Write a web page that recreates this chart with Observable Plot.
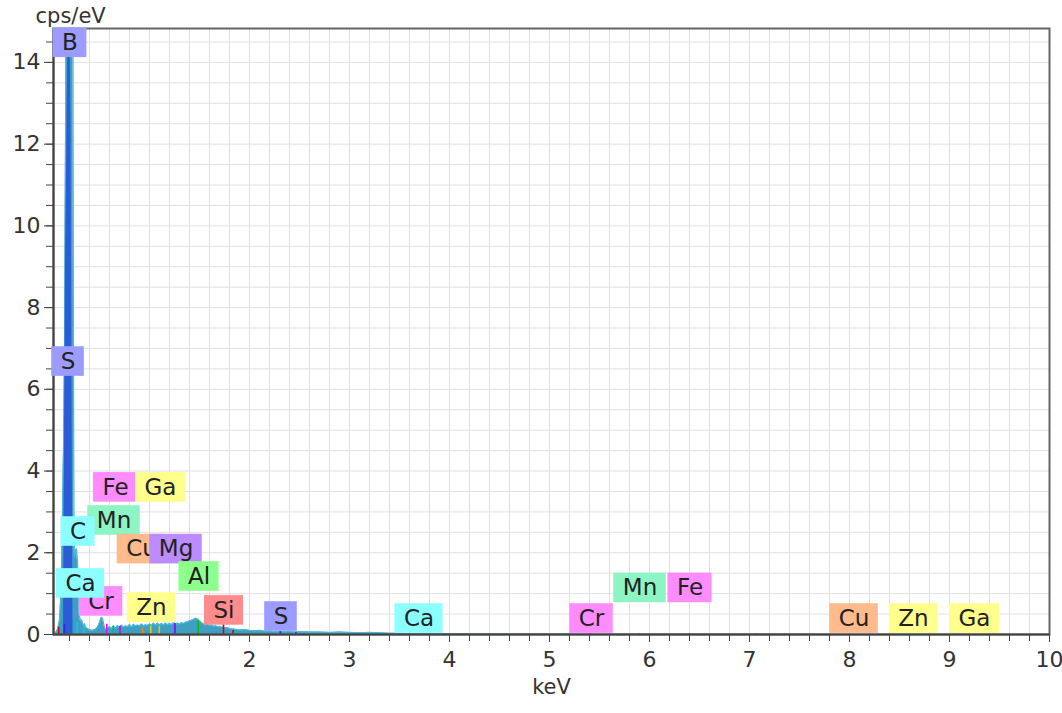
<!DOCTYPE html>
<html><head><meta charset="utf-8">
<script src="https://cdn.jsdelivr.net/npm/d3@7"></script>
<script src="https://cdn.jsdelivr.net/npm/@observablehq/plot@0.6"></script>
<style>body{margin:0;background:#fff;}</style>
</head><body><div id="chart"></div>
<script>
// ---- data ----
const energy = [0.04,0.06,0.08,0.10,0.11,0.12,0.13,0.14,0.15,0.165,0.235,0.24,0.245,0.25,0.26,0.27,0.28,0.29,0.30,0.31,0.32,0.33,0.34,0.35,0.36,0.38,0.40,0.42,0.44,0.46,0.48,0.50,0.51,0.52,0.53,0.54,0.55,0.56,0.58,0.60,0.62,0.64,0.66,0.68,0.70,0.72,0.74,0.76,0.78,0.80,0.82,0.84,0.86,0.88,0.90,0.92,0.94,0.96,0.98,1.00,1.02,1.04,1.06,1.08,1.10,1.12,1.14,1.16,1.18,1.20,1.22,1.24,1.26,1.28,1.30,1.32,1.34,1.36,1.38,1.40,1.42,1.44,1.46,1.48,1.50,1.52,1.54,1.56,1.58,1.60,1.62,1.64,1.66,1.68,1.70,1.72,1.74,1.76,1.78,1.80,1.85,1.90,1.95,2.00,2.05,2.10,2.15,2.20,2.25,2.30,2.35,2.40,2.45,2.50,2.60,2.70,2.80,2.90,3.00,3.10,3.20,3.30,3.40,3.50,3.60,3.70,3.80,4.00,4.20,4.50,5.00,5.50,6.00,6.50,7.00,8.00,9.00,10.00];
const cps = [0,0.04,0.12,0.35,0.8,1.6,3.0,4.5,7.0,14.7,14.7,6.5,2.4,1.9,2.05,2.1,1.8,0.9,0.45,0.33,0.36,0.28,0.22,0.26,0.18,0.14,0.12,0.1,0.11,0.13,0.18,0.28,0.36,0.42,0.40,0.28,0.18,0.13,0.15,0.19,0.14,0.21,0.15,0.22,0.17,0.23,0.18,0.21,0.19,0.24,0.18,0.25,0.2,0.23,0.21,0.26,0.2,0.24,0.22,0.26,0.22,0.28,0.22,0.28,0.23,0.27,0.23,0.28,0.24,0.27,0.24,0.29,0.24,0.28,0.25,0.29,0.27,0.3,0.31,0.33,0.35,0.37,0.4,0.38,0.33,0.29,0.26,0.24,0.25,0.22,0.23,0.2,0.21,0.19,0.2,0.17,0.19,0.16,0.17,0.14,0.13,0.11,0.12,0.1,0.09,0.1,0.08,0.09,0.07,0.08,0.07,0.08,0.06,0.07,0.06,0.06,0.05,0.06,0.05,0.04,0.05,0.04,0.03,0.03,0.02,0.025,0.02,0.015,0.015,0.01,0.008,0.006,0.006,0.005,0.004,0.003,0.002,0.002];

const peakEnergy = [0.14,0.15,0.16,0.175,0.185,0.205,0.215,0.225,0.235];
const peakCps = [0,5,9,12.5,14.7,14.7,12.5,6,0];

const markerElement = ["Si","S","C","Ca","Cr","Mn","Fe","Cu","Zn","Ga","Mg","Al","Si","Si","S","S","Ca","Ca","Cr","Mn","Fe","Fe","Cu","Zn","Ga"];
const markerEnergy = [0.092,0.149,0.277,0.341,0.573,0.637,0.705,0.93,1.012,1.098,1.254,1.487,1.740,1.836,2.308,2.464,3.69,4.01,5.41,5.90,6.40,7.06,8.04,8.63,9.25];
const markerCps = [0.18,0.25,0.3,0.22,0.25,0.2,0.2,0.15,0.2,0.2,0.27,0.34,0.27,0.1,0.07,0.05,0.03,0.01,0.02,0.02,0.02,0.015,0.01,0.01,0.01];

const labelElement = ["B","S","Cr","Ca","Mn","C","Fe","Ga","Cu","Mg","Zn","Al","Si","S","Ca","Cr","Mn","Fe","Cu","Zn","Ga"];
const labelEnergy = [0.205,0.185,0.515,0.31,0.645,0.285,0.66,1.11,0.92,1.265,1.02,1.495,1.745,2.315,3.695,5.42,5.905,6.405,8.045,8.64,9.25];
const labelLevel = [14.48,6.68,0.81,1.25,2.79,2.52,3.60,3.60,2.09,2.09,0.66,1.42,0.59,0.44,0.39,0.39,1.14,1.14,0.39,0.39,0.39];

const xTicks = [1,2,3,4,5,6,7,8,9,10];
const yTicks = [0,2,4,6,8,10,12,14];

// ---- styles ----
const labelFill = {B:"#9c9cff",S:"#9c9cff",C:"#8cffff",Ca:"#8cffff",Cr:"#ff8cff",Fe:"#ff8cff",Mn:"#8cf5c3",Cu:"#ffbb8c",Zn:"#ffff8c",Ga:"#ffff8c",Mg:"#bb8cff",Al:"#8cff8c",Si:"#ff8c8c"};
const lineColor = {B:"#2a4fe0",S:"#2a2ae0",C:"#00d0e0",Ca:"#00d0e0",Cr:"#ff00ff",Fe:"#e000e0",Mn:"#00c070",Cu:"#ff8800",Zn:"#d8d800",Ga:"#d8c800",Mg:"#8800ff",Al:"#00c000",Si:"#dd0000"};

const W = 1062, H = 713, mL = 53, mR = 13, mT = 28, mB = 79;
const xDom = [0.04, 10], yDom = [0, 14.83];
const kx = (W - mL - mR) / (xDom[1] - xDom[0]);
const ky = (H - mT - mB) / (yDom[1] - yDom[0]);
const FS = 23;

const ctx = document.createElement("canvas").getContext("2d");
ctx.font = FS + "px 'DejaVu Sans'";

const spectrum = energy.map((e, i) => ({e, c: cps[i]}));
const peak = peakEnergy.map((e, i) => ({e, c: peakCps[i]}));
const markers = markerEnergy.map((e, i) => ({e, c: markerCps[i], el: markerElement[i]}));
const labels = labelElement.map((el, i) => {
  const w = ctx.measureText(el).width + 18;
  return {el, e: labelEnergy[i], y: labelLevel[i],
    x1: labelEnergy[i] - w / 2 / kx, x2: labelEnergy[i] + w / 2 / kx,
    y1: labelLevel[i] - 14.8 / ky, y2: labelLevel[i] + 14.8 / ky};
});

const minorX = d3.range(1, 50).map(i => i / 5);
const minorY = d3.range(0, 30).map(i => i / 2);

const plot = Plot.plot({
  width: W, height: H,
  marginLeft: mL, marginRight: mR, marginTop: mT, marginBottom: mB,
  style: {fontFamily: "'DejaVu Sans', Verdana, sans-serif", fontSize: "22px", color: "#333", background: "#fff", overflow: "visible"},
  x: {domain: xDom, label: null},
  y: {domain: yDom, label: null},
  marks: [
    Plot.gridX(minorX, {stroke: "#e0e0e0", strokeOpacity: 1, strokeWidth: 1}),
    Plot.gridY(minorY, {stroke: "#e0e0e0", strokeOpacity: 1, strokeWidth: 1}),
    Plot.areaY(spectrum, {x: "e", y: "c", fill: "#3f9fc3", curve: "linear"}),
    Plot.lineY(spectrum, {x: "e", y: "c", stroke: "#48b8dc", strokeWidth: 1.2}),
    Plot.areaY(peak, {x: "e", y: "c", fill: "#2c5bd8"}),
    Plot.ruleX(markers, {x: "e", y1: 0, y2: "c", stroke: d => lineColor[d.el], strokeWidth: 1.6}),
    Plot.frame({stroke: "#666", strokeWidth: 2}),
    Plot.ruleY([0], {stroke: "#444", strokeWidth: 2}),
    Plot.ruleX([xDom[0]], {stroke: "#444", strokeWidth: 2}),
    Plot.axisX(minorX, {tickSize: 7, tickFormat: () => "", label: null, stroke: "#444"}),
    Plot.axisX(xTicks, {tickSize: 8, tickPadding: 9, fontSize: 22, label: null, stroke: "#444", fill: "#333"}),
    Plot.axisY(minorY, {tickSize: 7, tickFormat: () => "", label: null, stroke: "#444"}),
    Plot.axisY(yTicks, {tickSize: 9, tickPadding: 4, fontSize: 22, label: null, stroke: "#444", fill: "#333"}),
    ...labels.flatMap(l => [
      Plot.rect([l], {x1: "x1", x2: "x2", y1: "y1", y2: "y2", fill: labelFill[l.el]}),
      Plot.text([l], {x: "e", y: "y", text: "el", fontSize: FS, fill: "#222"})
    ]),
    Plot.text(["cps/eV"], {text: d => d, frameAnchor: "top-left", dx: -18, dy: -6, lineAnchor: "bottom", textAnchor: "start", fontSize: 21, fill: "#333"}),
    Plot.text(["keV"], {text: d => d, frameAnchor: "bottom", dy: 59, fontSize: 21, fill: "#333"})
  ]
});
document.getElementById("chart").appendChild(plot);
</script>
</body></html>
